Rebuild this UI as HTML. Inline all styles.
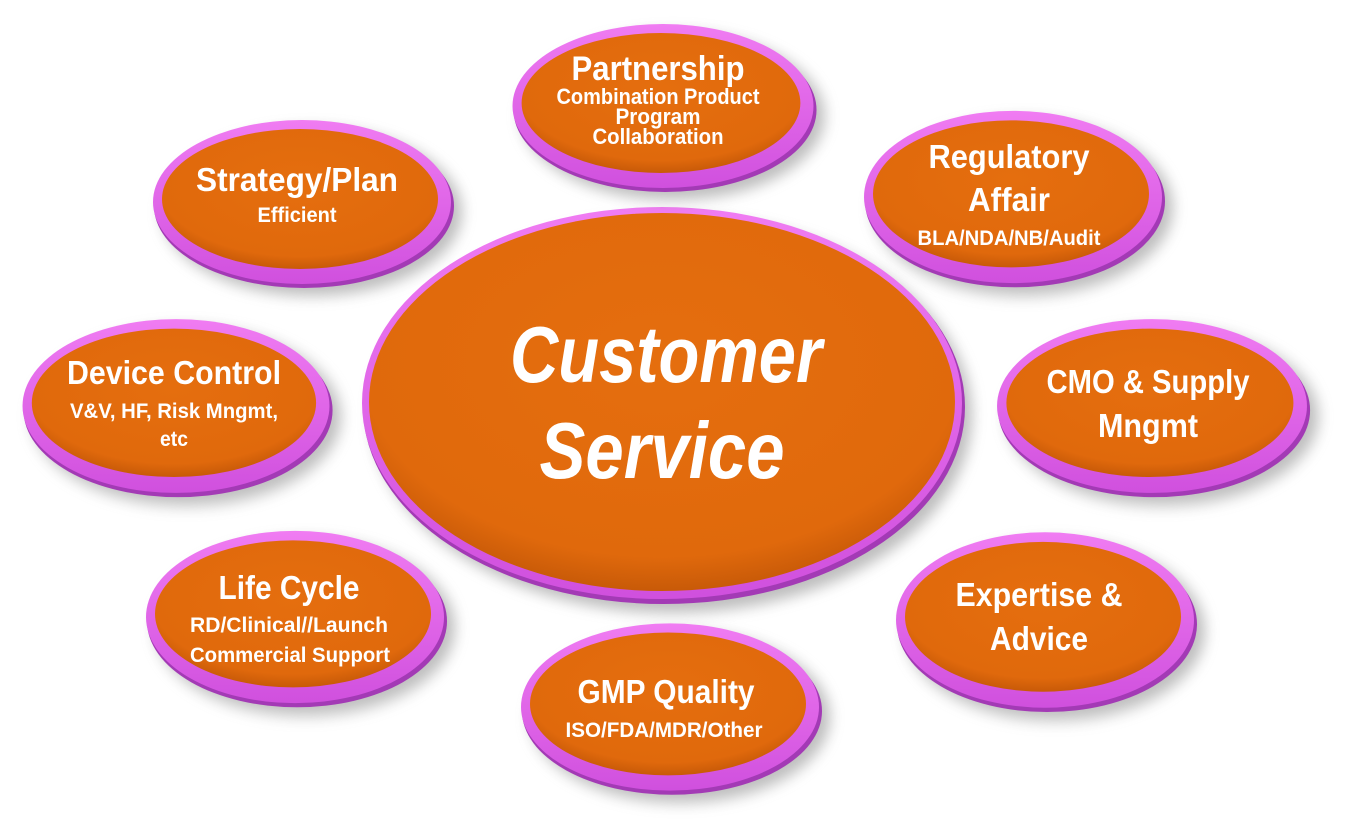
<!DOCTYPE html>
<html><head><meta charset="utf-8"><style>
html,body{margin:0;padding:0;background:#fff;}
svg{display:block}
text{font-family:"Liberation Sans Narrow","Liberation Sans",sans-serif;font-weight:bold;fill:#fff;text-anchor:middle}
</style></head><body>
<svg width="1347" height="826" viewBox="0 0 1347 826" xmlns="http://www.w3.org/2000/svg">
<defs>
<filter id="b" x="-20%" y="-20%" width="140%" height="140%"><feGaussianBlur stdDeviation="7"/></filter>
<radialGradient id="o" cx="50%" cy="40%" r="60%"><stop offset="0" stop-color="#e56e0e"/><stop offset="0.85" stop-color="#e0690c"/><stop offset="1" stop-color="#c85a08"/></radialGradient>
<linearGradient id="m" x1="0" y1="0" x2="0" y2="1"><stop offset="0" stop-color="#f07cf2"/><stop offset="1" stop-color="#d050de"/></linearGradient>
<g id="n">
<ellipse cx="10" cy="10" rx="150" ry="84" fill="#888" opacity="0.55" filter="url(#b)"/>
<ellipse cx="2" cy="4" rx="150" ry="82" fill="#a33ab5"/>
<ellipse cx="0" cy="0" rx="149" ry="82" fill="url(#m)"/>
<ellipse cx="-2" cy="-3" rx="138" ry="70" fill="url(#o)"/>
</g>
</defs>

<ellipse cx="672" cy="415" rx="300" ry="198" fill="#888" opacity="0.55" filter="url(#b)"/>
<ellipse cx="664" cy="407" rx="301" ry="197" fill="#a33ab5"/>
<ellipse cx="662" cy="403" rx="300" ry="196" fill="url(#m)"/>
<ellipse cx="662" cy="402" rx="293" ry="189" fill="url(#o)"/>
<text x="666" y="382" font-size="80" font-style="italic" textLength="312" lengthAdjust="spacingAndGlyphs">Customer</text>
<text x="662" y="478" font-size="80" font-style="italic" textLength="245" lengthAdjust="spacingAndGlyphs">Service</text>

<use href="#n" transform="translate(663,106) scale(1.01,1)"/>
<text x="658" y="80" font-size="34" textLength="173" lengthAdjust="spacingAndGlyphs">Partnership</text>
<text x="658" y="104" font-size="22" textLength="203" lengthAdjust="spacingAndGlyphs">Combination Product</text>
<text x="658" y="124" font-size="22" textLength="85" lengthAdjust="spacingAndGlyphs">Program</text>
<text x="658" y="144" font-size="22" textLength="131" lengthAdjust="spacingAndGlyphs">Collaboration</text>

<use href="#n" transform="translate(302,202)"/>
<text x="297" y="191" font-size="33" textLength="202" lengthAdjust="spacingAndGlyphs">Strategy/Plan</text>
<text x="297" y="222" font-size="21" textLength="79" lengthAdjust="spacingAndGlyphs">Efficient</text>

<use href="#n" transform="translate(1013,197) scale(1,1.05)"/>
<text x="1009" y="168" font-size="33" textLength="161" lengthAdjust="spacingAndGlyphs">Regulatory</text>
<text x="1009" y="211" font-size="33" textLength="82" lengthAdjust="spacingAndGlyphs">Affair</text>
<text x="1009" y="245" font-size="21" textLength="183" lengthAdjust="spacingAndGlyphs">BLA/NDA/NB/Audit</text>

<use href="#n" transform="translate(176,406) scale(1.03,1.06)"/>
<text x="174" y="384" font-size="33" textLength="214" lengthAdjust="spacingAndGlyphs">Device Control</text>
<text x="174" y="418" font-size="21" textLength="208" lengthAdjust="spacingAndGlyphs">V&amp;V, HF, Risk Mngmt,</text>
<text x="174" y="446" font-size="21" textLength="28" lengthAdjust="spacingAndGlyphs">etc</text>

<use href="#n" transform="translate(1152,406) scale(1.04,1.06)"/>
<text x="1148" y="393" font-size="33" textLength="203" lengthAdjust="spacingAndGlyphs">CMO &amp; Supply</text>
<text x="1148" y="437" font-size="33" textLength="100" lengthAdjust="spacingAndGlyphs">Mngmt</text>

<use href="#n" transform="translate(295,617) scale(1,1.05)"/>
<text x="289" y="599" font-size="33" textLength="141" lengthAdjust="spacingAndGlyphs">Life Cycle</text>
<text x="289" y="632" font-size="21" textLength="198" lengthAdjust="spacingAndGlyphs">RD/Clinical//Launch</text>
<text x="290" y="662" font-size="21" textLength="200" lengthAdjust="spacingAndGlyphs">Commercial Support</text>

<use href="#n" transform="translate(1045,620) scale(1,1.07)"/>
<text x="1039" y="606" font-size="33" textLength="167" lengthAdjust="spacingAndGlyphs">Expertise &amp;</text>
<text x="1039" y="650" font-size="33" textLength="98" lengthAdjust="spacingAndGlyphs">Advice</text>

<use href="#n" transform="translate(670,707) scale(1,1.02)"/>
<text x="666" y="703" font-size="33" textLength="177" lengthAdjust="spacingAndGlyphs">GMP Quality</text>
<text x="664" y="737" font-size="21" textLength="197" lengthAdjust="spacingAndGlyphs">ISO/FDA/MDR/Other</text>
</svg>
</body></html>
